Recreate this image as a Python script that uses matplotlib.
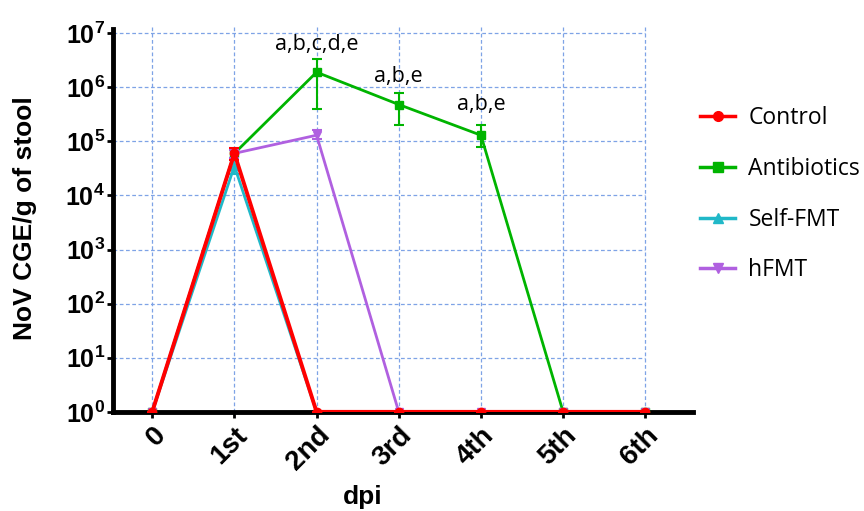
import numpy as np
import matplotlib.pyplot as plt
from matplotlib.lines import Line2D

plt.rcParams['font.family'] = ['Liberation Sans', 'DejaVu Sans']
plt.rcParams['mathtext.fontset'] = 'custom'
plt.rcParams['mathtext.bf'] = 'Liberation Sans:bold'
plt.rcParams['mathtext.rm'] = 'Liberation Sans'

days = [0, 1, 2, 3, 4, 5, 6]
day_labels = ['0', '1st', '2nd', '3rd', '4th', '5th', '6th']

control = [1, 6.0e4, 1, 1, 1, 1, 1]
control_err_lo = [0, 1.5e4, 0, 0, 0, 0, 0]
control_err_hi = [0, 1.5e4, 0, 0, 0, 0, 0]

antibiotics = [1, 6.0e4, 1.9e6, 4.8e5, 1.3e5, 1, 1]
anti_err_lo = [0, 1.0e4, 1.5e6, 2.8e5, 5.0e4, 0, 0]
anti_err_hi = [0, 1.0e4, 1.4e6, 3.2e5, 7.0e4, 0, 0]

selffmt = [1, 3.5e4, 1, 1, 1, 1, 1]
self_err_lo = [0, 1.0e4, 0, 0, 0, 0, 0]
self_err_hi = [0, 1.0e4, 0, 0, 0, 0, 0]

hfmt = [1, 6.0e4, 1.3e5, 1, 1, 1, 1]
h_err_lo = [0, 1.0e4, 2.0e4, 0, 0, 0, 0]
h_err_hi = [0, 1.0e4, 3.0e4, 0, 0, 0, 0]

sig_days = [2, 3, 4]
sig_text = ['a,b,c,d,e', 'a,b,e', 'a,b,e']
sig_y = [6.3e6, 1.6e6, 4.8e5]

fig = plt.figure(figsize=(8.64, 5.11), dpi=100)
ax = fig.add_axes([0.131, 0.194, 0.671, 0.758])

ax.set_yscale('log')
ax.set_xlim(-0.475, 6.58)
ax.set_ylim(1, 10**7.16)

# grid only over the data region
for d in days:
    ax.plot([d, d], [1, 10**7.16], color='#7ea3e6', ls=(0, (3, 2)), lw=0.9, zorder=0)
for k in range(1, 8):
    ax.plot([-0.475, 6], [10**k, 10**k], color='#7ea3e6', ls=(0, (3, 2)), lw=0.9, zorder=0)

series = [
    ('Control', control, control_err_lo, control_err_hi, '#ff0000', 'o', 2.8, 5),
    ('Antibiotics', antibiotics, anti_err_lo, anti_err_hi, '#00b400', 's', 2.0, 3),
    ('Self-FMT', selffmt, self_err_lo, self_err_hi, '#20b8c8', '^', 2.0, 2),
    ('hFMT', hfmt, h_err_lo, h_err_hi, '#b060e0', 'v', 2.0, 4),
]
handles = []
for name, vals, lo, hi, col, mk, lw, z in series:
    ax.errorbar(days, vals, yerr=[lo, hi], color=col, marker=mk, ms=6, lw=lw,
                capsize=3.5, elinewidth=1.5, capthick=1.5, zorder=z)
    handles.append(Line2D([], [], color=col, marker=mk, ms=7, lw=2.5))

for d, t, yv in zip(sig_days, sig_text, sig_y):
    ax.text(d, yv, t, ha='center', va='center', fontsize=15.5, family='Open Sans')

for s in ['top', 'right']:
    ax.spines[s].set_visible(False)
ax.spines['left'].set_linewidth(3.5)
ax.spines['bottom'].set_linewidth(3.5)
ax.spines['left'].set_bounds(1, 10**7.08)

ax.set_yticks([10**k for k in range(8)])
ax.set_yticklabels([r'$\mathbf{10^{%d}}$' % k for k in range(8)], fontsize=18)
ax.minorticks_off()
ax.set_xticks(days)
ax.set_xticklabels(day_labels, rotation=45, ha='right', rotation_mode='anchor',
                   fontsize=20, fontweight='bold')
ax.tick_params(axis='both', length=4, width=2)
ax.tick_params(axis='y', pad=2)

ax.set_xlabel('dpi', fontsize=19, fontweight='bold')
ax.xaxis.set_label_coords(0.431, -0.19)
ax.set_ylabel('NoV CGE/g of stool', fontsize=19, fontweight='bold')
ax.yaxis.set_label_coords(-0.131, 0.5)

fig.legend(handles, [s[0] for s in series], loc='center left', bbox_to_anchor=(0.8, 0.62),
           bbox_transform=fig.transFigure, frameon=False, labelspacing=1.17,
           handlelength=1.5, handletextpad=0.6, borderaxespad=0,
           prop={'family': 'Open Sans', 'size': 16.5})

fig.savefig('out.png', dpi=100)
